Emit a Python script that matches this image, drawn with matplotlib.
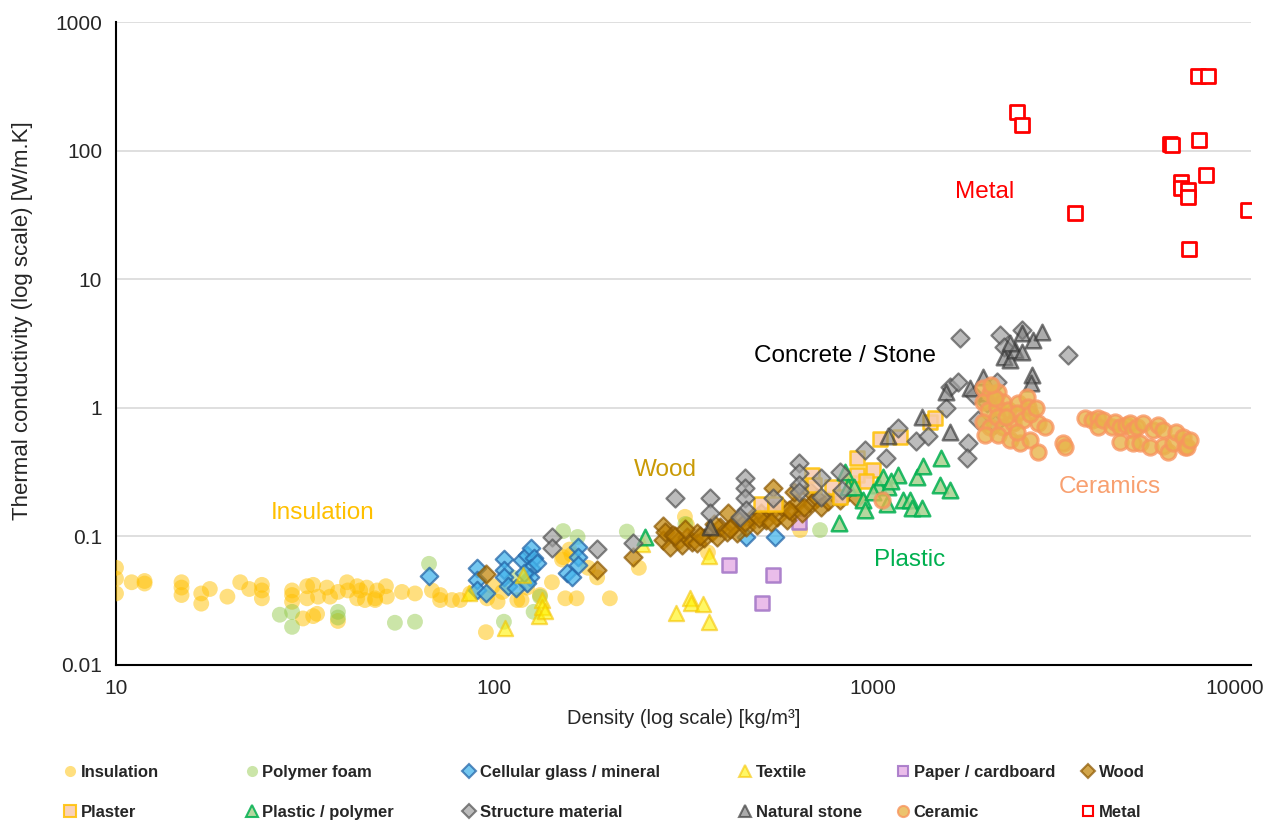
import matplotlib
matplotlib.use("Agg")
import matplotlib.pyplot as plt
from matplotlib.lines import Line2D
from matplotlib.ticker import FixedLocator, FixedFormatter, NullLocator
from matplotlib.transforms import ScaledTranslation

plt.rcParams['font.family'] = ['Liberation Sans', 'DejaVu Sans']

# (density kg/m3, thermal conductivity W/m.K) per material family
insulation = [
    (10, 0.057), (10, 0.047), (10, 0.036), (11, 0.044), (11.9, 0.043), (11.9, 0.045),
    (14.9, 0.044), (14.9, 0.040), (14.9, 0.035), (16.8, 0.036), (16.8, 0.030), (17.7, 0.039),
    (19.7, 0.034), (21.3, 0.044), (22.5, 0.039), (24.3, 0.042), (24.3, 0.038), (24.3, 0.033),
    (29.2, 0.038), (29.2, 0.035), (29.2, 0.031), (32, 0.041), (32, 0.033), (33.2, 0.042),
    (34.2, 0.034), (36.1, 0.040), (36.8, 0.034), (38.6, 0.037), (40.8, 0.044), (41, 0.038),
    (43.4, 0.041), (44.2, 0.038), (43.4, 0.033), (45.5, 0.032), (48.4, 0.032), (48.4, 0.033),
    (46, 0.040), (49, 0.038), (51.7, 0.041), (52, 0.034), (57, 0.037), (61.7, 0.036),
    (68.4, 0.038), (71.9, 0.035), (71.9, 0.032), (77.3, 0.032), (81.2, 0.032), (31.2, 0.023),
    (33.2, 0.024), (34, 0.025), (38.6, 0.022), (95, 0.018), (86.3, 0.036), (95.7, 0.033),
    (99, 0.041), (102, 0.031), (105, 0.037), (115, 0.032), (118, 0.032), (122, 0.040),
    (132, 0.035), (142, 0.044), (151, 0.066), (152, 0.069), (160, 0.072), (158, 0.079),
    (154, 0.033), (165, 0.033), (177, 0.057), (187, 0.048), (202, 0.033), (241, 0.057),
    (319, 0.142), (323, 0.123), (367, 0.075), (643, 0.112),
]

polymer_foam = [
    (27.1, 0.0246), (29.2, 0.0259), (29.2, 0.0198), (38.6, 0.0259), (38.6, 0.0234),
    (54.6, 0.0213), (61.7, 0.0217), (67.2, 0.0612), (106, 0.0217), (112, 0.0478),
    (127, 0.0259), (132, 0.034), (152, 0.110), (166, 0.099), (224, 0.109), (320, 0.125),
    (726, 0.112),
]

cellular_glass = [
    (67.2, 0.0494), (90, 0.057), (90, 0.046), (90, 0.0384), (95, 0.0364), (106, 0.067),
    (106, 0.0551), (106, 0.0484), (109, 0.0413), (114, 0.0398), (118, 0.0658), (122, 0.072),
    (125, 0.0815), (127, 0.0683), (125, 0.057), (124, 0.0484), (122, 0.0436), (120, 0.052),
    (130, 0.062), (156, 0.052), (160, 0.048), (166, 0.083), (166, 0.0694), (166, 0.0603),
    (463, 0.0985), (552, 0.0995),
]

textile = [
    (85.7, 0.036), (107, 0.0195), (119, 0.050), (131, 0.0241), (134, 0.0322), (134, 0.028),
    (136, 0.0262), (246, 0.0876), (302, 0.0253), (329, 0.0331), (331, 0.0305), (356, 0.030),
    (369, 0.0217), (369, 0.0707),
]

paper = [(417, 0.060), (510, 0.0305), (545, 0.0503), (640, 0.13)]

wood = [
    (95, 0.0513), (187, 0.055), (233, 0.0695), (279, 0.121), (279, 0.094), (283, 0.108),
    (291, 0.083), (297, 0.103), (307, 0.094), (314, 0.086), (324, 0.099), (334, 0.0907),
    (344, 0.107), (344, 0.089), (359, 0.0976), (375, 0.109), (388, 0.099), (395, 0.119),
    (411, 0.109), (415, 0.152), (428, 0.123), (438, 0.107), (445, 0.135), (464, 0.119),
    (482, 0.142), (494, 0.123), (508, 0.152), (522, 0.135), (545, 0.161), (545, 0.239),
    (557, 0.142), (577, 0.17), (593, 0.135), (611, 0.155), (630, 0.183), (649, 0.152),
    (678, 0.231), (690, 0.183), (711, 0.2), (730, 0.17), (820, 0.193), (910, 0.2),
    (300, 0.100), (320, 0.115), (350, 0.100), (380, 0.125), (420, 0.115), (460, 0.130),
    (500, 0.140), (540, 0.130), (600, 0.160), (660, 0.170), (760, 0.190), (620, 0.220),
]

plaster = [
    (508, 0.18), (552, 0.18), (690, 0.302), (700, 0.25), (783, 0.243), (820, 0.203),
    (885, 0.261), (910, 0.409), (910, 0.30), (1048, 0.574), (1180, 0.595), (1415, 0.778),
    (1460, 0.83), (1000, 0.33), (960, 0.27),
]

plastic = [
    (250, 0.099), (815, 0.128), (843, 0.318), (860, 0.243), (893, 0.243), (943, 0.193),
    (955, 0.161), (1034, 0.252), (1066, 0.29), (1099, 0.243), (1092, 0.18), (1167, 0.30),
    (1203, 0.193), (1256, 0.193), (1271, 0.167), (1351, 0.167), (1311, 0.29), (1359, 0.35),
    (1507, 0.252), (1602, 0.231), (1520, 0.409), (1000, 0.22), (1120, 0.27),
]

structure = [
    (142, 0.099), (142, 0.0815), (187, 0.08), (233, 0.089), (300, 0.2), (372, 0.2),
    (372, 0.152), (460, 0.286), (460, 0.239), (460, 0.2), (464, 0.161), (445, 0.142),
    (545, 0.2), (639, 0.373), (639, 0.312), (639, 0.252), (639, 0.22), (731, 0.286),
    (731, 0.203), (820, 0.318), (830, 0.231), (955, 0.472), (1085, 0.409), (1167, 0.70),
    (1300, 0.55), (1400, 0.60), (1560, 1.0), (1602, 1.46), (1681, 1.59), (1702, 3.5),
    (1787, 0.534), (1778, 0.409), (2006, 1.09), (2132, 1.59), (2172, 3.7), (2221, 2.98),
    (2483, 4.04), (3285, 2.58), (1900, 0.80), (2100, 0.75), (1850, 1.25),
]

natural_stone = [
    (372, 0.119), (1100, 0.60), (1351, 0.851), (1560, 1.33), (1811, 1.43), (1955, 1.74),
    (2221, 2.49), (2310, 2.36), (2375, 2.82), (2483, 2.73), (2483, 3.8), (2655, 3.38),
    (2640, 1.8), (2615, 1.56), (2800, 3.9), (1602, 0.65), (2000, 1.3), (2300, 3.2),
]

ceramic = [
    (1958, 1.43), (2044, 1.308), (2146, 1.331), (1958, 1.113), (2018, 0.965), (2133, 1.018),
    (2212, 1.113), (2280, 0.965), (2424, 1.094), (2560, 1.218), (2576, 1.018), (1958, 0.778),
    (2044, 0.712), (2133, 0.851), (2212, 0.712), (2350, 0.764), (2408, 0.914), (1982, 0.617),
    (2146, 0.617), (2308, 0.564), (2453, 0.534), (2607, 0.564), (2736, 0.455), (2736, 0.764),
    (2856, 0.712), (3187, 0.534), (3226, 0.497), (2100, 1.2), (2250, 0.85), (2500, 0.8),
    (2400, 0.65), (2600, 0.9), (2050, 1.5), (2700, 1.0), (3643, 0.836), (3802, 0.807),
    (3943, 0.836), (3943, 0.712), (4064, 0.807), (4295, 0.712), (4374, 0.778), (4508, 0.712),
    (4508, 0.544), (4675, 0.738), (4791, 0.764), (4880, 0.675), (4880, 0.534), (5000, 0.712),
    (5185, 0.764), (5093, 0.534), (5411, 0.497), (5511, 0.675), (5681, 0.738), (5857, 0.675),
    (5857, 0.506), (6039, 0.455), (6226, 0.534), (6339, 0.651), (6615, 0.595), (6697, 0.497),
    (6778, 0.497), (6902, 0.564), (1059, 0.193),
]

metal = [
    (2408, 200), (2483, 159), (3428, 32.8), (6109, 113), (6170, 111), (7244, 381),
    (7700, 379), (7275, 121), (7600, 64.8), (6540, 57.2), (6540, 51), (6800, 49.4),
    (6800, 43.7), (6870, 17.2), (9840, 34.6),
]

series_names = [
    "Insulation", "Polymer foam", "Cellular glass / mineral", "Textile",
    "Paper / cardboard", "Wood", "Plaster", "Plastic / polymer",
    "Structure material", "Natural stone", "Ceramic", "Metal",
]
series_data = [
    insulation, polymer_foam, cellular_glass, textile, paper, wood,
    plaster, plastic, structure, natural_stone, ceramic, metal,
]

x_ticks = [10, 100, 1000, 10000]
x_tick_labels = ["10", "100", "1000", "10000"]
y_ticks = [0.01, 0.1, 1, 10, 100, 1000]
y_tick_labels = ["0.01", "0.1", "1", "10", "100", "1000"]

# marker, face, edge, size (pt^2), edge width, alpha, legend marker size
styles = {
    "Insulation": ('o', '#FFC000', 'none', 130, 0.0, 0.5, 8),
    "Polymer foam": ('o', '#8CC63F', 'none', 130, 0.0, 0.45, 8),
    "Cellular glass / mineral": ('D', '#45B5EC', '#2566A8', 80, 1.6, 0.75, 7),
    "Textile": ('^', '#FFF200', '#F5C400', 120, 1.6, 0.6, 8.5),
    "Paper / cardboard": ('s', '#E8B6E8', '#A678C8', 90, 1.8, 0.9, 7.5),
    "Wood": ('D', '#C08000', '#8A5600', 85, 1.6, 0.7, 7),
    "Plaster": ('s', '#F8CBAD', '#FFC000', 110, 1.8, 0.85, 8),
    "Plastic / polymer": ('^', '#A9D18E', '#00B050', 125, 1.8, 0.85, 8.5),
    "Structure material": ('D', '#A0A0A0', '#505050', 85, 1.6, 0.7, 7),
    "Natural stone": ('^', '#7F7F7F', '#333333', 125, 1.8, 0.65, 8.5),
    "Ceramic": ('o', '#E8B44A', '#F8955E', 120, 2.2, 0.8, 8),
    "Metal": ('s', 'white', '#FF0000', 100, 2.0, 1.0, 7.5),
}

W, H = 1273, 822
fig = plt.figure(figsize=(W / 100, H / 100), dpi=100)
ax = fig.add_axes([116 / W, 1 - 665 / H, (1251 - 116) / W, (665 - 22) / H])

for name, pts in zip(series_names, series_data):
    mk, fc, ec, s, lw, a, _ = styles[name]
    xs = [p[0] for p in pts]
    ys = [p[1] for p in pts]
    ax.scatter(xs, ys, marker=mk, s=s, facecolors=fc, edgecolors=ec,
               linewidths=lw, alpha=a, zorder=3)

ax.set_xscale('log')
ax.set_yscale('log')
ax.set_xlim(10, 10000)
ax.set_ylim(0.01, 1000)
ax.xaxis.set_major_locator(FixedLocator(x_ticks))
ax.xaxis.set_major_formatter(FixedFormatter(x_tick_labels))
ax.yaxis.set_major_locator(FixedLocator(y_ticks))
ax.yaxis.set_major_formatter(FixedFormatter(y_tick_labels))
ax.xaxis.set_minor_locator(NullLocator())
ax.yaxis.set_minor_locator(NullLocator())
ax.tick_params(axis='both', length=0, labelsize=15, colors='#262626')
ax.tick_params(axis='x', pad=10)
ax.tick_params(axis='y', pad=10)

# keep the last density label inside the figure
last = ax.get_xticklabels()[-1]
last.set_transform(last.get_transform() + ScaledTranslation(-0.16, 0, fig.dpi_scale_trans))

ax.yaxis.grid(True, color='#D9D9D9', linewidth=1.2)
ax.set_axisbelow(True)
for side in ('top', 'right'):
    ax.spines[side].set_visible(False)
for side in ('left', 'bottom'):
    ax.spines[side].set_color('black')
    ax.spines[side].set_linewidth(1.5)

ax.set_xlabel("Density (log scale) [kg/m³]", fontsize=14.5, color='#262626', labelpad=8)
ax.set_ylabel("Thermal conductivity (log scale) [W/m.K]", fontsize=16, color='#262626')
ax.yaxis.set_label_coords(-0.073, 0.535)

# family labels
lab_size = 17.5
ax.text(1982, 47.8, "Metal", color='#FF0000', fontsize=lab_size, ha='center', va='center')
ax.text(845, 2.54, "Concrete / Stone", color='black', fontsize=lab_size, ha='center', va='center')
ax.text(283, 0.33, "Wood", color='#C99A06', fontsize=lab_size, ha='center', va='center')
ax.text(35.2, 0.153, "Insulation", color='#FFC000', fontsize=lab_size, ha='center', va='center')
ax.text(4242, 0.243, "Ceramics", color='#F8A070', fontsize=lab_size, ha='center', va='center')
ax.text(1256, 0.0658, "Plastic", color='#00B050', fontsize=lab_size, ha='center', va='center')

# legend: six columns of two entries
col_x = [70, 252, 469, 745, 903, 1088]
for i, cx in enumerate(col_x):
    handles, labels = [], []
    for name in (series_names[i], series_names[i + 6]):
        mk, fc, ec, s, lw, a, ms = styles[name]
        handles.append(Line2D([], [], linestyle='none', marker=mk, markersize=ms,
                              markerfacecolor=fc, markeredgecolor=ec,
                              markeredgewidth=min(lw, 1.5), alpha=a))
        labels.append(name)
    fig.legend(handles, labels, loc='upper left',
               bbox_to_anchor=((cx - 7) / W, 1 - 765 / H),
               frameon=False, handlelength=0.8, handletextpad=0.25,
               borderpad=0, borderaxespad=0, labelspacing=1.5,
               prop={'weight': 'bold', 'size': 12}, labelcolor='#262626')

fig.savefig("out.png", dpi=100, facecolor='white')
